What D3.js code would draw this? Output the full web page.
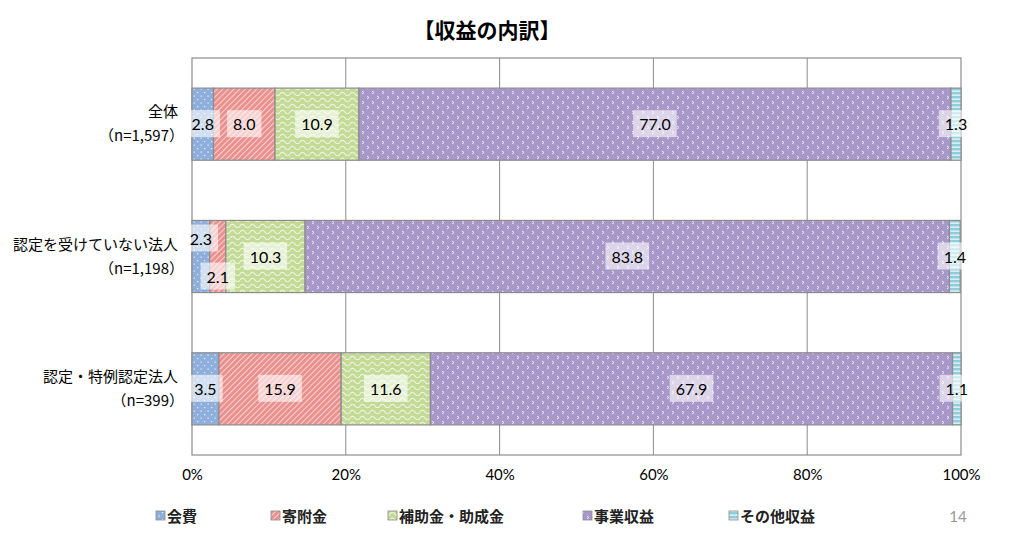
<!DOCTYPE html>
<html>
<head>
<meta charset="utf-8">
<script src="https://cdn.jsdelivr.net/npm/d3@7"></script>
<style>
  body { margin: 0; background: #fff; }
  svg { display: block; font-family: "Noto Sans CJK JP", "Noto Sans", sans-serif; }
</style>
</head>
<body>
<svg id="chart" width="1036" height="536"></svg>
<script>
// ---- data ----
const categories = ["全体", "認定を受けていない法人", "認定・特例認定法人"];
const sampleSizes = ["（n=1,597）", "（n=1,198）", "（n=399）"];
const seriesNames = ["会費", "寄附金", "補助金・助成金", "事業収益", "その他収益"];
const values = [
  [2.8, 8.0, 10.9, 77.0, 1.3],
  [2.3, 2.1, 10.3, 83.8, 1.4],
  [3.5, 15.9, 11.6, 67.9, 1.1]
];
const xTicks = [0, 20, 40, 60, 80, 100];

const svg = d3.select("#chart");
const plot = { left: 192, right: 961, top: 58, bottom: 455 };
const numFont = "Lato, 'Open Sans', sans-serif";

const x = d3.scaleLinear().domain([0, 100]).range([plot.left, plot.right]);
const y = d3.scaleBand()
  .domain(categories)
  .range([plot.top, plot.bottom])
  .paddingInner(0.455)
  .paddingOuter(0.2275);

// ---- patterns ----
const defs = svg.append("defs");
const fills = ["url(#pDots)", "url(#pDiag)", "url(#pWave)", "url(#pArrow)", "url(#pHoriz)"];

let p = defs.append("pattern").attr("id", "pDots").attr("patternUnits", "userSpaceOnUse")
  .attr("width", 7).attr("height", 7);
p.append("rect").attr("width", 7).attr("height", 7).attr("fill", "#8eaedb");
p.append("rect").attr("x", 1).attr("y", 1).attr("width", 1.2).attr("height", 1.2).attr("fill", "#eef3fb");
p.append("rect").attr("x", 4.5).attr("y", 4.5).attr("width", 1.2).attr("height", 1.2).attr("fill", "#eef3fb");

p = defs.append("pattern").attr("id", "pDiag").attr("patternUnits", "userSpaceOnUse")
  .attr("width", 4).attr("height", 4).attr("patternTransform", "rotate(45)");
p.append("rect").attr("width", 4).attr("height", 4).attr("fill", "#e8918e");
p.append("line").attr("x1", 0).attr("y1", 0).attr("x2", 0).attr("y2", 4)
  .attr("stroke", "#fbe3e2").attr("stroke-width", 1.6);

p = defs.append("pattern").attr("id", "pWave").attr("patternUnits", "userSpaceOnUse")
  .attr("width", 10).attr("height", 6);
p.append("rect").attr("width", 10).attr("height", 6).attr("fill", "#c4db98");
p.append("path").attr("d", "M0,4 Q2.5,0.5 5,4 T10,4").attr("fill", "none")
  .attr("stroke", "#eef6e0").attr("stroke-width", 1.2);

p = defs.append("pattern").attr("id", "pArrow").attr("patternUnits", "userSpaceOnUse")
  .attr("width", 10).attr("height", 10);
p.append("rect").attr("width", 10).attr("height", 10).attr("fill", "#a897c9");
p.append("path").attr("d", "M2,1 L4,2.5 L2,4").attr("fill", "none")
  .attr("stroke", "#efeaf7").attr("stroke-width", 1);
p.append("path").attr("d", "M7,6 L9,7.5 L7,9").attr("fill", "none")
  .attr("stroke", "#efeaf7").attr("stroke-width", 1);

p = defs.append("pattern").attr("id", "pHoriz").attr("patternUnits", "userSpaceOnUse")
  .attr("width", 4).attr("height", 4);
p.append("rect").attr("width", 4).attr("height", 4).attr("fill", "#8fcddc");
p.append("rect").attr("y", 2.5).attr("width", 4).attr("height", 1.3).attr("fill", "#eaf7fa");

// ---- title ----
svg.append("text")
  .attr("x", 487).attr("y", 38)
  .attr("text-anchor", "middle")
  .attr("font-size", 21).attr("font-weight", "bold")
  .text("【収益の内訳】");

// ---- plot frame + grid ----
svg.append("rect")
  .attr("x", plot.left).attr("y", plot.top)
  .attr("width", plot.right - plot.left).attr("height", plot.bottom - plot.top)
  .attr("fill", "#fff").attr("stroke", "#8c8c8c").attr("stroke-width", 1.2);

svg.append("g").selectAll("line")
  .data(xTicks.slice(1, -1))
  .enter().append("line")
  .attr("x1", d => x(d)).attr("x2", d => x(d))
  .attr("y1", plot.top).attr("y2", plot.bottom)
  .attr("stroke", "#8c8c8c").attr("stroke-width", 1);

// x axis labels
const xAxis = svg.append("g")
  .attr("transform", `translate(0,${plot.bottom})`)
  .call(d3.axisBottom(x).tickValues(xTicks).tickSize(0).tickPadding(14).tickFormat(d => d + "%"));
xAxis.select(".domain").remove();
xAxis.selectAll("text").attr("font-size", 15).attr("fill", "#000")
  .attr("font-family", numFont);

// category labels
const cat = svg.append("g");
categories.forEach((c, i) => {
  const cy = y(c) + y.bandwidth() / 2;
  cat.append("text").attr("x", 178).attr("y", cy - 7)
    .attr("text-anchor", "end").attr("font-size", 15).text(c);
  cat.append("text").attr("x", 184).attr("y", cy + 17)
    .attr("text-anchor", "end").attr("font-size", 15).text(sampleSizes[i]);
});

// ---- bars ----
const rows = categories.map((c, i) => {
  let acc = 0;
  return values[i].map((v, j) => {
    const seg = { cat: c, series: j, v, x0: acc, x1: acc + v };
    acc += v;
    return seg;
  });
});

const barG = svg.append("g");
rows.forEach(r => {
  barG.selectAll(null)
    .data(r)
    .enter().append("rect")
    .attr("x", d => x(d.x0))
    .attr("y", d => y(d.cat))
    .attr("width", d => x(d.x1) - x(d.x0))
    .attr("height", y.bandwidth())
    .attr("fill", d => fills[d.series])
    .attr("stroke", "#8c8c8c").attr("stroke-width", 1.2);
});

// ---- value labels ----
const lblG = svg.append("g");
rows.forEach(r => {
  r.forEach((d, j) => {
    const cx = (x(d.x0) + x(d.x1)) / 2;
    let cy = y(d.cat) + y.bandwidth() / 2;
    // stagger two narrow neighbouring segments
    const next = r[j + 1], prev = r[j - 1];
    if (d.v < 3 && next && next.v < 3 && j + 1 < r.length - 1) cy -= 18;
    else if (prev && prev.v < 3 && d.v < 3 && j < r.length - 1) cy += 20;

    const g = lblG.append("g");
    const t = g.append("text")
      .attr("x", cx).attr("y", cy + 6)
      .attr("text-anchor", "middle")
      .attr("font-size", 16)
      .attr("font-family", numFont)
      .attr("fill", "#000")
      .text(d.v.toFixed(1));
    const bb = t.node().getBBox();
    g.insert("rect", "text")
      .attr("x", bb.x - 6).attr("y", bb.y - 4)
      .attr("width", bb.width + 12).attr("height", bb.height + 8)
      .attr("fill", "rgba(255,255,255,0.6)");
  });
});

// ---- legend ----
const legendX = [156, 271, 388, 583, 729];
const leg = svg.append("g");
seriesNames.forEach((s, i) => {
  leg.append("rect")
    .attr("x", legendX[i]).attr("y", 511)
    .attr("width", 9).attr("height", 9)
    .attr("fill", fills[i]).attr("stroke", "#8c8c8c").attr("stroke-width", 0.8);
  leg.append("text")
    .attr("x", legendX[i] + 11).attr("y", 522)
    .attr("font-size", 15).attr("font-weight", "bold").attr("fill", "#222")
    .text(s);
});

// page number
svg.append("text")
  .attr("x", 958).attr("y", 522)
  .attr("text-anchor", "middle")
  .attr("font-size", 15).attr("fill", "#999")
  .attr("font-family", numFont)
  .text("14");
</script>
</body>
</html>
